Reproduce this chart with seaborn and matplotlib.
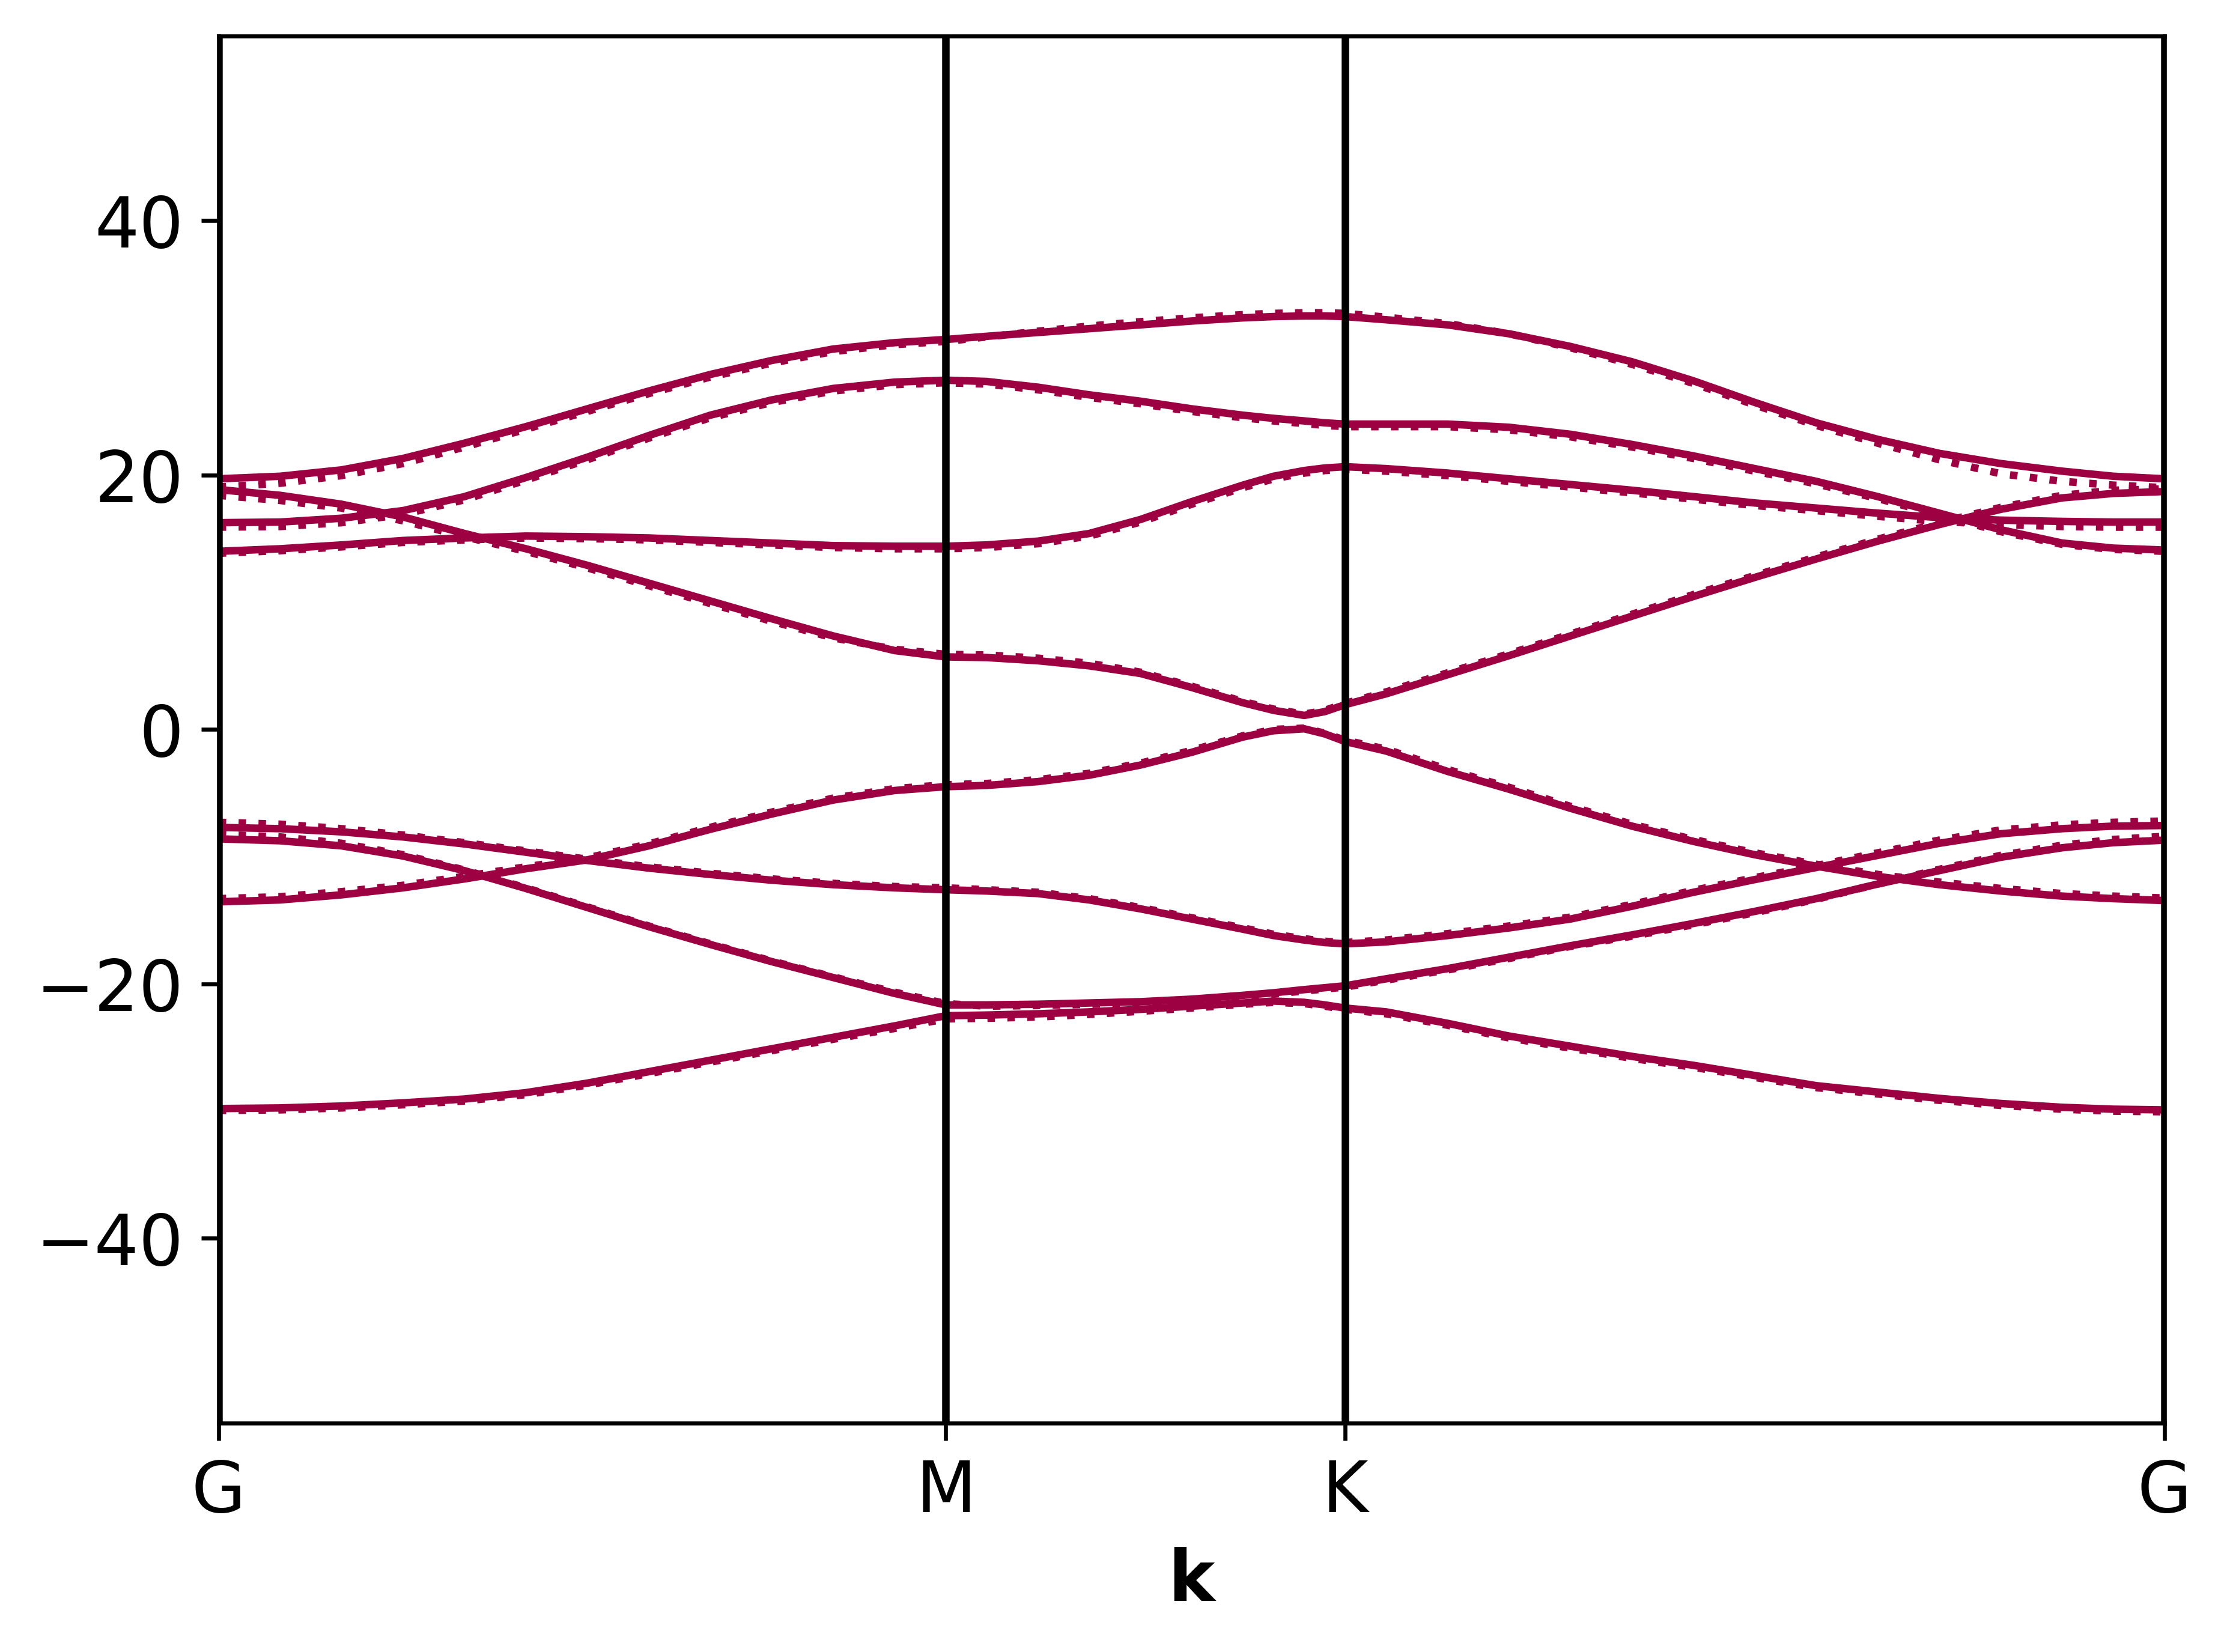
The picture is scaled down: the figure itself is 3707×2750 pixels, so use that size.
import numpy as np
import pandas as pd
import matplotlib
matplotlib.use("Agg")
import matplotlib.pyplot as plt
import seaborn as sns

# k-path (sample index along G-M-K-G)
k_ticks = [0, 71, 110, 190]
k_labels = ["G", "M", "K", "G"]

k_path = [0, 6, 12, 18, 24, 30, 36, 42, 48, 54, 60, 66, 71,
          75, 80, 85, 90, 95, 100, 103, 106, 108, 110,
          114, 120, 126, 132, 138, 144, 150, 156, 162, 168, 174, 180, 185, 190]

# band energies, solid set
band_a_solid = [19.7, 19.9, 20.4, 21.3, 22.5, 23.8, 25.2, 26.6, 27.9, 29.0, 29.9, 30.4, 30.65,
                30.9, 31.2, 31.5, 31.8, 32.1, 32.35, 32.45, 32.5, 32.5, 32.45,
                32.2, 31.8, 31.1, 30.1, 28.9, 27.4, 25.7, 24.1, 22.8, 21.7, 20.9, 20.3, 19.9, 19.7]
band_b_solid = [18.85, 18.4, 17.7, 16.7, 15.4, 14.2, 12.9, 11.5, 10.1, 8.7, 7.35, 6.2, 5.7,
                5.65, 5.4, 5.0, 4.4, 3.3, 2.1, 1.5, 1.1, 1.4, 1.95,
                2.8, 4.3, 5.8, 7.35, 8.9, 10.45, 11.95, 13.4, 14.8, 16.1, 17.3, 18.2, 18.55, 18.7]
band_c_solid = [16.25, 16.3, 16.6, 17.2, 18.3, 19.8, 21.4, 23.1, 24.7, 25.9, 26.8, 27.3, 27.45,
                27.35, 26.9, 26.3, 25.8, 25.2, 24.7, 24.45, 24.25, 24.1, 24.0,
                24.0, 24.0, 23.75, 23.2, 22.4, 21.5, 20.5, 19.5, 18.3, 17.0, 15.7, 14.65, 14.25, 14.1]
band_d_solid = [14.0, 14.2, 14.5, 14.85, 15.05, 15.2, 15.15, 15.05, 14.85, 14.65, 14.45, 14.4, 14.4,
                14.5, 14.8, 15.4, 16.5, 17.9, 19.2, 19.9, 20.35, 20.55, 20.65,
                20.5, 20.15, 19.7, 19.25, 18.8, 18.3, 17.8, 17.4, 17.0, 16.65, 16.45, 16.35, 16.3, 16.3]
band_e_solid = [-13.55, -13.4, -13.0, -12.45, -11.75, -10.95, -10.25, -9.15, -7.85, -6.65, -5.55, -4.8, -4.5,
                -4.4, -4.1, -3.6, -2.8, -1.8, -0.6, -0.1, 0.05, -0.35, -0.95,
                -1.7, -3.3, -4.7, -6.2, -7.6, -8.8, -9.85, -10.75, -11.55, -12.2, -12.7, -13.1, -13.3, -13.45]
band_f_solid = [-7.7, -7.8, -8.05, -8.45, -9.0, -9.65, -10.3, -10.9, -11.4, -11.85, -12.2, -12.45, -12.6,
                -12.7, -12.9, -13.4, -14.1, -14.9, -15.7, -16.2, -16.55, -16.75, -16.85,
                -16.7, -16.2, -15.6, -14.9, -13.9, -12.8, -11.8, -10.85, -9.9, -8.95, -8.2, -7.8, -7.6, -7.55]
band_g_solid = [-8.6, -8.75, -9.15, -9.95, -11.1, -12.5, -14.0, -15.5, -16.9, -18.25, -19.5, -20.75, -21.65,
                -21.65, -21.6, -21.5, -21.4, -21.2, -20.9, -20.7, -20.45, -20.3, -20.15,
                -19.6, -18.8, -17.9, -17.0, -16.15, -15.25, -14.3, -13.3, -12.15, -11.1, -10.05, -9.3, -8.9, -8.7]
band_i_solid = [-29.8, -29.75, -29.6, -29.35, -29.05, -28.55, -27.8, -26.9, -26.0, -25.1, -24.2, -23.3, -22.5,
                -22.45, -22.35, -22.2, -22.0, -21.75, -21.5, -21.35, -21.45, -21.65, -21.9,
                -22.2, -23.1, -24.1, -24.9, -25.7, -26.4, -27.2, -28.0, -28.5, -29.0, -29.4, -29.7, -29.85, -29.9]

# second (dotted) set
band_a_dot = [19.05, 19.35, 19.95, 20.9, 22.2, 23.6, 25.0, 26.4, 27.7, 28.8, 29.7, 30.25, 30.5,
              30.85, 31.3, 31.7, 32.05, 32.35, 32.6, 32.7, 32.75, 32.75, 32.7,
              32.4, 31.9, 31.1, 30.0, 28.7, 27.2, 25.5, 23.9, 22.5, 21.2, 20.1, 19.5, 19.2, 19.0]
band_b_dot = [18.4, 18.0, 17.4, 16.4, 15.15, 14.0, 12.7, 11.3, 9.9, 8.5, 7.2, 6.3, 5.9,
              5.85, 5.6, 5.2, 4.5, 3.4, 2.2, 1.6, 1.2, 1.5, 2.05,
              2.95, 4.45, 5.95, 7.5, 9.05, 10.6, 12.1, 13.55, 14.95, 16.25, 17.45, 18.4, 18.8, 18.9]
band_c_dot = [15.9, 15.95, 16.25, 16.9, 18.05, 19.6, 21.2, 22.9, 24.5, 25.7, 26.6, 27.1, 27.25,
              27.15, 26.7, 26.1, 25.6, 25.0, 24.5, 24.25, 24.05, 23.9, 23.8,
              23.8, 23.8, 23.55, 23.0, 22.2, 21.3, 20.3, 19.3, 18.15, 16.85, 15.55, 14.55, 14.15, 14.0]
band_d_dot = [13.85, 14.05, 14.35, 14.7, 14.9, 15.05, 15.0, 14.9, 14.7, 14.5, 14.3, 14.2, 14.2,
              14.3, 14.6, 15.2, 16.3, 17.7, 19.0, 19.7, 20.15, 20.35, 20.45,
              20.3, 19.95, 19.5, 19.05, 18.6, 18.1, 17.6, 17.2, 16.75, 16.35, 16.1, 15.95, 15.9, 15.9]
band_e_dot = [-13.3, -13.15, -12.75, -12.25, -11.55, -10.8, -10.1, -9.0, -7.7, -6.5, -5.4, -4.65, -4.35,
              -4.25, -3.95, -3.45, -2.65, -1.65, -0.5, 0.0, 0.1, -0.3, -0.85,
              -1.55, -3.15, -4.55, -6.05, -7.45, -8.65, -9.7, -10.6, -11.4, -12.0, -12.5, -12.9, -13.1, -13.25]
band_f_dot = [-7.3, -7.45, -7.8, -8.3, -8.9, -9.55, -10.2, -10.8, -11.3, -11.75, -12.1, -12.35, -12.45,
              -12.6, -12.8, -13.3, -14.0, -14.8, -15.6, -16.1, -16.45, -16.65, -16.75,
              -16.55, -16.05, -15.45, -14.75, -13.75, -12.65, -11.65, -10.7, -9.7, -8.7, -7.9, -7.5, -7.3, -7.2]
band_g_dot = [-8.25, -8.45, -8.95, -9.85, -11.05, -12.45, -13.95, -15.45, -16.85, -18.2, -19.45, -20.65, -21.55,
              -21.75, -21.7, -21.6, -21.5, -21.3, -21.0, -20.8, -20.55, -20.4, -20.25,
              -19.7, -18.9, -18.0, -17.05, -16.25, -15.35, -14.4, -13.35, -12.15, -11.0, -9.9, -9.1, -8.65, -8.4]
band_i_dot = [-29.95, -29.9, -29.75, -29.5, -29.2, -28.7, -27.95, -27.05, -26.15, -25.25, -24.35, -23.5, -22.75,
              -22.7, -22.6, -22.4, -22.15, -21.9, -21.6, -21.45, -21.55, -21.75, -22.0,
              -22.35, -23.25, -24.25, -25.05, -25.85, -26.55, -27.35, -28.15, -28.65, -29.15, -29.55, -29.85, -30.0, -30.05]

solid_bands = {"a": band_a_solid, "b": band_b_solid, "c": band_c_solid, "d": band_d_solid,
               "e": band_e_solid, "f": band_f_solid, "g": band_g_solid, "i": band_i_solid}
dot_bands = {"a": band_a_dot, "b": band_b_dot, "c": band_c_dot, "d": band_d_dot,
             "e": band_e_dot, "f": band_f_dot, "g": band_g_dot, "i": band_i_dot}

band_color = "#9e0142"

# long table for seaborn
rows = []
for calc, bands in [("solid", solid_bands), ("dotted", dot_bands)]:
    for name, energies in bands.items():
        for k, e in zip(k_path, energies):
            rows.append({"k": k, "energy": e, "band": name, "calc": calc})
df = pd.DataFrame(rows)

fig = plt.figure(figsize=(3707 / 600, 2750 / 600), dpi=600)
ax = fig.add_axes([364 / 3707, 1 - 2368.5 / 2750, 3239 / 3707, 2308.5 / 2750])

sns.lineplot(data=df, x="k", y="energy", hue="band", style="calc",
             palette={b: band_color for b in solid_bands},
             dashes={"solid": "", "dotted": (1, 1.65)},
             estimator=None, sort=False, legend=False, linewidth=1.5, ax=ax)

for kt in k_ticks:
    ax.axvline(kt, color="black", linewidth=1.5)

ax.set_xlim(k_ticks[0], k_ticks[-1])
ax.set_ylim(-54.5, 54.5)
ax.set_xticks(k_ticks)
ax.set_xticklabels(k_labels)
ax.tick_params(axis="both", labelsize=14)
ax.set_xlabel("k", fontsize=14, fontweight="bold")
ax.set_ylabel("")

fig.savefig("out.png", dpi=600)
